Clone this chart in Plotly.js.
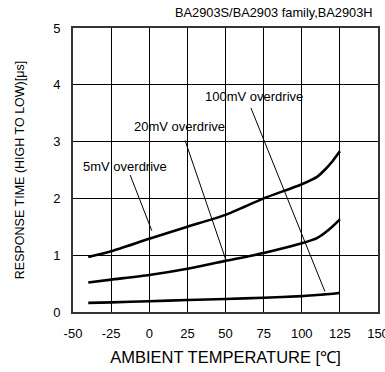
<!DOCTYPE html>
<html>
<head>
<meta charset="utf-8">
<script src="https://cdn.plot.ly/plotly-3.0.1.min.js"></script>
<style>
html,body{margin:0;padding:0;background:#fff;overflow:hidden;}
#chart{width:385px;height:372px;}
</style>
</head>
<body>
<div id="chart"></div>
<script>
// Ambient temperature [°C]
const temps = [-40, -25, 0, 25, 50, 75, 100, 110, 115, 120, 125];
// Response time (high to low) [µs]
const resp5mV   = [0.97, 1.07, 1.29, 1.50, 1.71, 2.00, 2.25, 2.38, 2.50, 2.65, 2.83];
const resp20mV  = [0.52, 0.57, 0.65, 0.76, 0.90, 1.04, 1.21, 1.30, 1.39, 1.50, 1.63];
const resp100mV = [0.16, 0.17, 0.19, 0.21, 0.23, 0.25, 0.28, 0.30, 0.31, 0.32, 0.34];

const xTicks = [-50, -25, 0, 25, 50, 75, 100, 125, 150];
const yTicks = [0, 1, 2, 3, 4, 5];

const labelText = ['5mV overdrive', '20mV overdrive', '100mV overdrive'];
const labelX = [-16, 20, 68.5];
const labelY = [2.57, 3.26, 3.79];
const leaderX0 = [-12.5, 23.5, 66.7];
const leaderY0 = [2.41, 3.02, 3.59];
const leaderX1 = [1.7, 50.2, 115.2];
const leaderY1 = [1.43, 0.92, 0.36];

const subtitle = 'BA2903S/BA2903 family,BA2903H';

const FONT = 'Arial, "Liberation Sans", sans-serif';

const curve = (y) => ({
  x: temps, y: y, type: 'scatter', mode: 'lines',
  line: {color: '#000', width: 2.6, shape: 'spline', smoothing: 0.6},
  hoverinfo: 'skip', showlegend: false
});

const data = [curve(resp5mV), curve(resp20mV), curve(resp100mV)];

const annotations = labelText.map((t, i) => ({
  x: labelX[i], y: labelY[i], xref: 'x', yref: 'y', text: t,
  showarrow: false, font: {family: FONT, size: 13, color: '#000'},
  xanchor: 'center', yanchor: 'middle'
}));
annotations.push({
  x: 1, y: 1, xref: 'paper', yref: 'paper', yshift: 16, xshift: -3,
  text: subtitle, showarrow: false, xanchor: 'right', yanchor: 'middle',
  font: {family: FONT, size: 12.8, color: '#000'}
});

const shapes = labelText.map((t, i) => ({
  type: 'line', xref: 'x', yref: 'y',
  x0: leaderX0[i], y0: leaderY0[i], x1: leaderX1[i], y1: leaderY1[i],
  line: {color: '#000', width: 1}
}));

const layout = {
  width: 385, height: 372,
  margin: {l: 73, r: 7, t: 28, b: 60},
  paper_bgcolor: '#fff', plot_bgcolor: '#fff',
  font: {family: FONT, color: '#000'},
  xaxis: {
    range: [-50, 150], tickvals: xTicks, ticktext: xTicks.map(String),
    showgrid: true, gridcolor: '#000', gridwidth: 1,
    zeroline: false, showline: true, linecolor: '#333', linewidth: 2, mirror: true,
    ticks: '', ticklabeloverflow: 'allow', ticklabelstandoff: 8,
    tickfont: {family: FONT, size: 13, color: '#000'},
    title: {text: 'AMBIENT TEMPERATURE [℃]', font: {family: FONT, size: 16.5, color: '#000'}, standoff: 12}
  },
  yaxis: {
    range: [0, 5], tickvals: yTicks, ticktext: yTicks.map(String),
    showgrid: true, gridcolor: '#000', gridwidth: 1,
    zeroline: false, showline: true, linecolor: '#333', linewidth: 2, mirror: true,
    ticks: '', ticklabelstandoff: 8,
    tickfont: {family: FONT, size: 13, color: '#000'},
    title: {text: 'RESPONSE TIME (HIGH TO LOW)[μs]', font: {family: FONT, size: 12.5, color: '#000'}, standoff: 26}
  },
  annotations: annotations,
  shapes: shapes,
  showlegend: false
};

Plotly.newPlot('chart', data, layout, {displayModeBar: false, staticPlot: true});
</script>
</body>
</html>
